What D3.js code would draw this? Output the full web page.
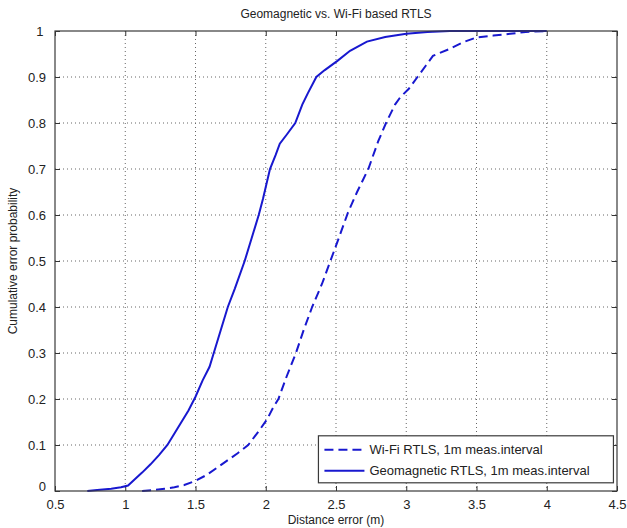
<!DOCTYPE html>
<html>
<head>
<meta charset="utf-8">
<script src="https://cdnjs.cloudflare.com/ajax/libs/d3/7.8.5/d3.min.js"></script>
<style>
  body { margin: 0; background: #fff; }
  svg text { font-family: "Liberation Sans", Arial, sans-serif; fill: #222; }
  .grid line { stroke: #666; stroke-dasharray: 1,3; stroke-width: 1; }
</style>
</head>
<body>
<svg id="chart" width="627" height="528"></svg>
<script>
// CDF curves
let geoX = [0.73, 0.80, 0.90, 0.97, 1.02, 1.07, 1.12, 1.18, 1.24, 1.30, 1.35, 1.40, 1.45, 1.50,
            1.55, 1.60, 1.63, 1.68, 1.73, 1.78, 1.85, 1.90, 1.95, 1.98, 2.03, 2.07, 2.10, 2.15,
            2.21, 2.26, 2.30, 2.36, 2.42, 2.51, 2.60, 2.72, 2.85, 3.00, 3.15, 3.31, 3.60, 4.00];
let geoP = [0, 0.002, 0.005, 0.008, 0.012, 0.026, 0.04, 0.058, 0.078, 0.10, 0.125, 0.15, 0.175, 0.205,
            0.24, 0.27, 0.30, 0.35, 0.40, 0.44, 0.50, 0.55, 0.60, 0.635, 0.70, 0.73, 0.755, 0.775,
            0.80, 0.84, 0.865, 0.90, 0.915, 0.935, 0.957, 0.977, 0.987, 0.994, 0.998, 1.0, 1.0, 1.0];

let wifiX = [1.12, 1.20, 1.28, 1.35, 1.42, 1.50, 1.58, 1.65, 1.72, 1.80, 1.875, 1.95, 2.01, 2.05,
             2.09, 2.15, 2.215, 2.27, 2.33, 2.40, 2.46, 2.52, 2.585, 2.65, 2.73, 2.80, 2.856, 2.92,
             2.955, 3.02, 3.08, 3.14, 3.19, 3.30, 3.40, 3.50, 3.62, 3.74, 3.85, 4.00];
let wifiP = [0, 0.002, 0.005, 0.008, 0.013, 0.022, 0.035, 0.05, 0.065, 0.082, 0.10, 0.13, 0.156, 0.18,
             0.20, 0.25, 0.30, 0.35, 0.40, 0.45, 0.50, 0.55, 0.605, 0.65, 0.70, 0.76, 0.80, 0.84,
             0.855, 0.875, 0.90, 0.925, 0.946, 0.96, 0.975, 0.986, 0.99, 0.994, 0.998, 1.0];

let xTicks = [0.5, 1, 1.5, 2, 2.5, 3, 3.5, 4, 4.5];
let yTicks = [0, 0.1, 0.2, 0.3, 0.4, 0.5, 0.6, 0.7, 0.8, 0.9, 1];

let seriesNames = ["Wi-Fi RTLS, 1m meas.interval", "Geomagnetic RTLS, 1m meas.interval"];
let titleText = "Geomagnetic vs. Wi-Fi based RTLS";
let xLabel = "Distance error (m)";
let yLabel = "Cumulative error probability";

let margin = {left: 55, right: 10, top: 31, bottom: 37};
let svg = d3.select("svg#chart");
let width = +svg.attr("width") - margin.left - margin.right;
let height = +svg.attr("height") - margin.top - margin.bottom;
let blue = "#1818cf";

let x = d3.scaleLinear().domain([0.5, 4.5]).range([0, width]);
let y = d3.scaleLinear().domain([0, 1]).range([height, 0]);

let g = svg.append("g")
           .attr("transform", "translate(" + margin.left + "," + margin.top + ")");

// dotted grid
let grid = g.append("g").attr("class", "grid");
grid.selectAll("line.v").data(xTicks.slice(1, -1))
    .enter().append("line")
      .attr("class", "v")
      .attr("x1", function(d) { return x(d); })
      .attr("x2", function(d) { return x(d); })
      .attr("y1", 0).attr("y2", height);
grid.selectAll("line.h").data(yTicks.slice(1, -1))
    .enter().append("line")
      .attr("class", "h")
      .attr("y1", function(d) { return y(d); })
      .attr("y2", function(d) { return y(d); })
      .attr("x1", 0).attr("x2", width);

// axes, ticks pointing inward like matlab
function styleAxis(sel) {
  sel.select(".domain").remove();
  sel.selectAll(".tick line").attr("stroke", "#333");
  sel.selectAll(".tick text").style("font-size", "13px").attr("fill", "#222");
}

g.append("g")
  .attr("transform", "translate(0," + height + ")")
  .call(d3.axisBottom(x).tickValues(xTicks).tickSizeInner(-5).tickSizeOuter(0).tickPadding(9)
          .tickFormat(d3.format("")))
  .call(styleAxis);

g.append("g")
  .call(d3.axisTop(x).tickValues(xTicks).tickSizeInner(-5).tickSizeOuter(0).tickFormat(""))
  .call(styleAxis);

g.append("g")
  .call(d3.axisLeft(y).tickValues(yTicks).tickSizeInner(-5).tickSizeOuter(0).tickPadding(9)
          .tickFormat(d3.format("")))
  .call(styleAxis)
  .selectAll(".tick text")
    .attr("dy", function(d) { return d === 0 ? "-0.05em" : "0.32em"; })
    .attr("dx", function(d) { return d === 1 ? "-0.2em" : 0; });

g.append("g")
  .attr("transform", "translate(" + width + ",0)")
  .call(d3.axisRight(y).tickValues(yTicks).tickSizeInner(-5).tickSizeOuter(0).tickFormat(""))
  .call(styleAxis);

// curves
let line = d3.line()
             .x(function(d) { return x(d[0]); })
             .y(function(d) { return y(d[1]); });

g.append("path")
  .datum(d3.zip(wifiX, wifiP))
  .attr("d", line)
  .attr("fill", "none")
  .attr("stroke", blue)
  .attr("stroke-width", 2)
  .attr("stroke-dasharray", "9,5");

g.append("path")
  .datum(d3.zip(geoX, geoP))
  .attr("d", line)
  .attr("fill", "none")
  .attr("stroke", blue)
  .attr("stroke-width", 2);

// frame
g.append("rect")
  .attr("width", width)
  .attr("height", height)
  .attr("fill", "none")
  .attr("stroke", "#3a3a3a")
  .attr("stroke-width", 1.2);

// legend
let legend = g.append("g")
              .attr("transform", "translate(" + (x(2.375)) + "," + (y(0.12)) + ")");
legend.append("rect")
  .attr("width", 295)
  .attr("height", 47)
  .attr("fill", "#fff")
  .attr("stroke", "#3a3a3a")
  .attr("stroke-width", 1.2);

legend.selectAll("line").data(seriesNames)
  .enter().append("line")
    .attr("x1", 6).attr("x2", 46)
    .attr("y1", function(d, i) { return 14 + 21*i; })
    .attr("y2", function(d, i) { return 14 + 21*i; })
    .attr("stroke", blue)
    .attr("stroke-width", 2)
    .attr("stroke-dasharray", function(d, i) { return i === 0 ? "9,5" : null; });

legend.selectAll("text").data(seriesNames)
  .enter().append("text")
    .attr("x", 51)
    .attr("y", function(d, i) { return 14 + 21*i; })
    .attr("dy", "0.35em")
    .style("font-size", "13px")
    .text(function(d) { return d; });

// titles
svg.append("text")
  .attr("x", margin.left + width/2)
  .attr("y", 18)
  .attr("text-anchor", "middle")
  .style("font-size", "12px")
  .text(titleText);

svg.append("text")
  .attr("x", margin.left + width/2)
  .attr("y", 524)
  .attr("text-anchor", "middle")
  .style("font-size", "12px")
  .text(xLabel);

svg.append("text")
  .attr("transform", "translate(17," + (margin.top + height/2) + ") rotate(-90)")
  .attr("text-anchor", "middle")
  .style("font-size", "12px")
  .text(yLabel);
</script>
</body>
</html>
